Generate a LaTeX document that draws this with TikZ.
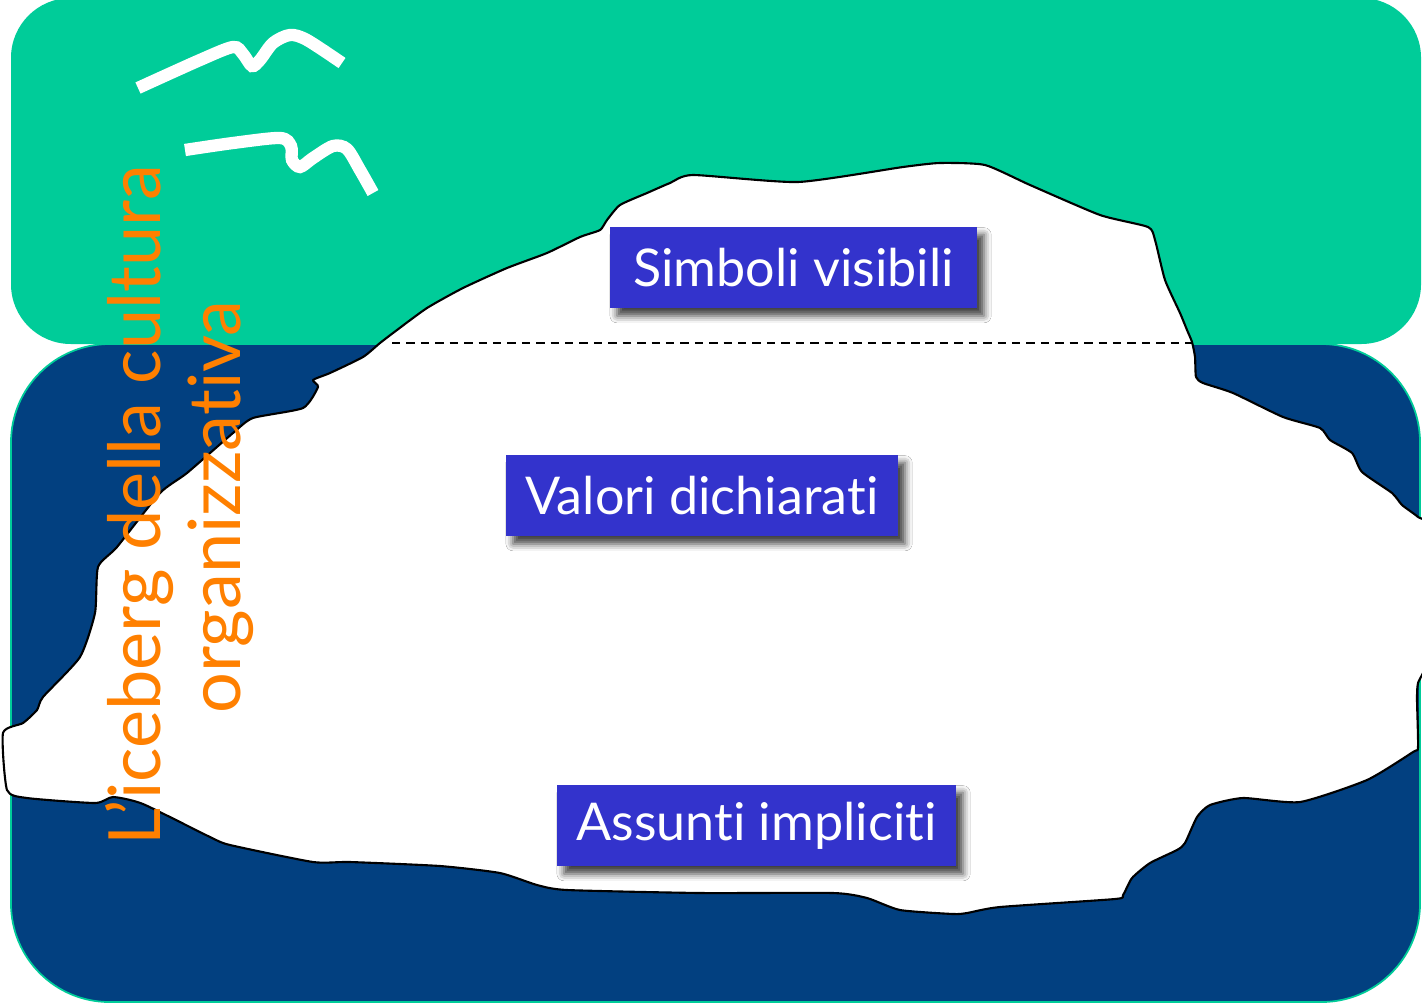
\documentclass[tikz,border=0pt]{standalone}
\usepackage{fontspec}
\setmainfont{Lato}[Ligatures={NoCommon}]
\usetikzlibrary{shadows.blur}
\definecolor{seateal}{RGB}{0,204,153}
\definecolor{deepnavy}{RGB}{2,64,128}
\definecolor{labelblue}{RGB}{51,51,204}
\definecolor{titleorange}{RGB}{255,128,0}
\tikzset{
  layerbox/.style={fill=labelblue, text=white, inner sep=0pt, minimum height=0.81cm,
    font=\fontsize{14.8}{17}\selectfont,
    blur shadow={shadow xshift=2pt, shadow yshift=-2.2pt, shadow blur radius=2pt, shadow opacity=75}},
  bird/.style={white, line width=3.5pt},
  titletext/.style={text=titleorange, rotate=90, anchor=base, inner sep=0pt,
    font=\fontsize{20.5}{24}\selectfont},
  ice/.style={fill=white, draw=black, line width=0.6pt, line join=round},
}
\begin{document}
\begin{tikzpicture}[x=0.01cm, y=-0.01cm]
\useasboundingbox (0,0) rectangle (1422,1006);
% sky and sea panels
\fill[seateal, rounded corners=17pt] (11,-2) rectangle (1421,344);
\filldraw[fill=deepnavy, draw=seateal, line width=0.5pt, rounded corners=28pt] (11,344) rectangle (1420,1002);
% the iceberg
\path[ice] plot[smooth cycle, tension=0.35] coordinates {
  (3,733) (23,723) (37,710) (43,697) (80,657) (95,613) (98,567) (117,547)
  (160,493) (187,473) (233,433) (253,418) (303,408) (318,387) (313,380)
  (330,373) (363,357) (380,343) (397,330) (427,308) (463,288) (507,268)
  (547,253) (580,237) (600,230) (607,220) (620,205) (647,193) (670,183)
  (693,175) (798,182) (903,167) (940,163) (985,165) (1030,185) (1100,215)
  (1148,227) (1155,240) (1165,280) (1180,313) (1187,330) (1192,342)
  (1195,357) (1196,377) (1203,383) (1233,393) (1283,417) (1320,428)
  (1330,440) (1352,453) (1362,472) (1392,493) (1402,505) (1418,517)
  (1428,530) (1428,655) (1418,683) (1417,700) (1418,747) (1413,752)
  (1367,780) (1300,802) (1243,798) (1210,805) (1197,817) (1185,843)
  (1177,850) (1150,863) (1132,878) (1123,895) (1115,899) (1000,907)
  (967,913) (953,914) (900,910) (867,898) (833,893) (700,893) (567,890)
  (537,885) (500,873) (440,866) (350,862) (313,862) (230,845) (210,837)
  (143,804) (113,797) (95,803) (27,798) (7,790)
};
% waterline
\coordinate (wl-a) at (392,343);
\coordinate (wl-b) at (1198,343);
\draw[black, line width=0.55pt, dash pattern=on 2.4pt off 1.7pt] (wl-a) -- (wl-b);
% gulls
\draw[bird] plot[smooth, tension=0.5] coordinates {
  (138,88) (200,60) (233,47) (243,54) (252,66) (260,60) (273,43) (290,35) (307,40) (342,63)};
\draw[bird] plot[smooth, tension=0.5] coordinates {
  (185,150) (233,143) (280,138) (291,146) (292,160) (300,167) (313,158) (333,146) (347,149) (360,170) (373,193)};
% layer labels
\node[layerbox, minimum width=3.67cm] (simboli) at (793.5,267.5) {Simboli visibili};
\node[layerbox, minimum width=3.92cm] (valori) at (702,495.5) {Valori dichiarati};
\node[layerbox, minimum width=3.99cm] (assunti) at (756.5,825.5) {Assunti impliciti};
% title
\node[titletext] (title1) at (160,505) {L’iceberg della cultura};
\node[titletext] (title2) at (240,507) {organizzativa};
\end{tikzpicture}
\end{document}
